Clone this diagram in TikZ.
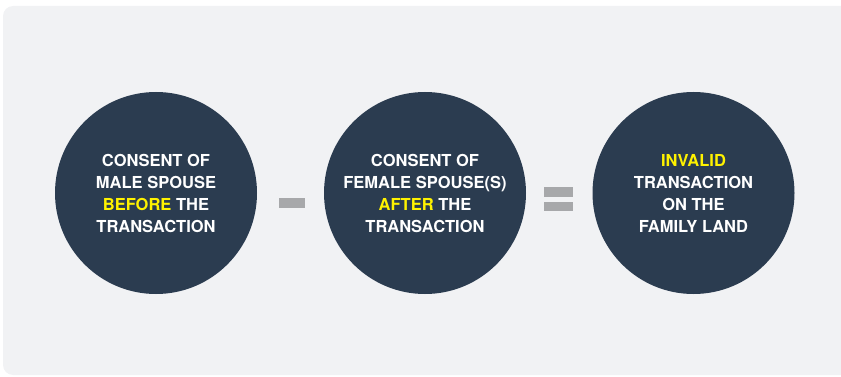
\documentclass[tikz,border=0pt]{standalone}
\usepackage{fontspec}
\setmainfont{TeX Gyre Heros}
\usetikzlibrary{positioning}

\definecolor{panelgray}{HTML}{F1F2F4}
\definecolor{navy}{HTML}{2B3C50}
\definecolor{bargray}{HTML}{A7A8AA}
\definecolor{hiyellow}{HTML}{FFF200}

\newcommand{\hl}[1]{\textcolor{hiyellow}{#1}}

\tikzset{
  bubble/.style={circle, fill=navy, minimum size=202pt, inner sep=0pt,
    text=white, align=center, font=\bfseries\fontsize{16.5}{22}\selectfont},
  bar/.style={fill=bargray, inner sep=0pt, minimum width=26pt, minimum height=10pt}
}

\begin{document}
\begin{tikzpicture}[x=1pt, y=-1pt]

    % fix the page to the size of the reference and clip the panel
    \useasboundingbox (0,0) rectangle (841,377);
    \clip (0,0) rectangle (841,377);
    \fill[panelgray, rounded corners=10pt] (3,6) rectangle (855,375);

    % the three circles, left to right
    \node[bubble] (male) at (156,193) {CONSENT OF\\MALE SPOUSE\\\hl{BEFORE} THE\\TRANSACTION};
    \node[bubble] (female) at (425,193) {CONSENT OF\\FEMALE SPOUSE(S)\\\hl{AFTER} THE\\TRANSACTION};
    \node[bubble] (invalid) at (693.5,193) {\hl{INVALID}\\TRANSACTION\\ON THE\\FAMILY LAND};

    % minus sign between the first two
    \node[bar] (minus) at (291.5,203) {};
    % equals sign between the last two
    \node[bar, minimum width=29pt, minimum height=9.5pt] (eqtop) at (558.5,192) {};
    \node[bar, minimum width=29pt, minimum height=9.5pt] (eqbot) at (558.5,206.5) {};

\end{tikzpicture}
\end{document}
